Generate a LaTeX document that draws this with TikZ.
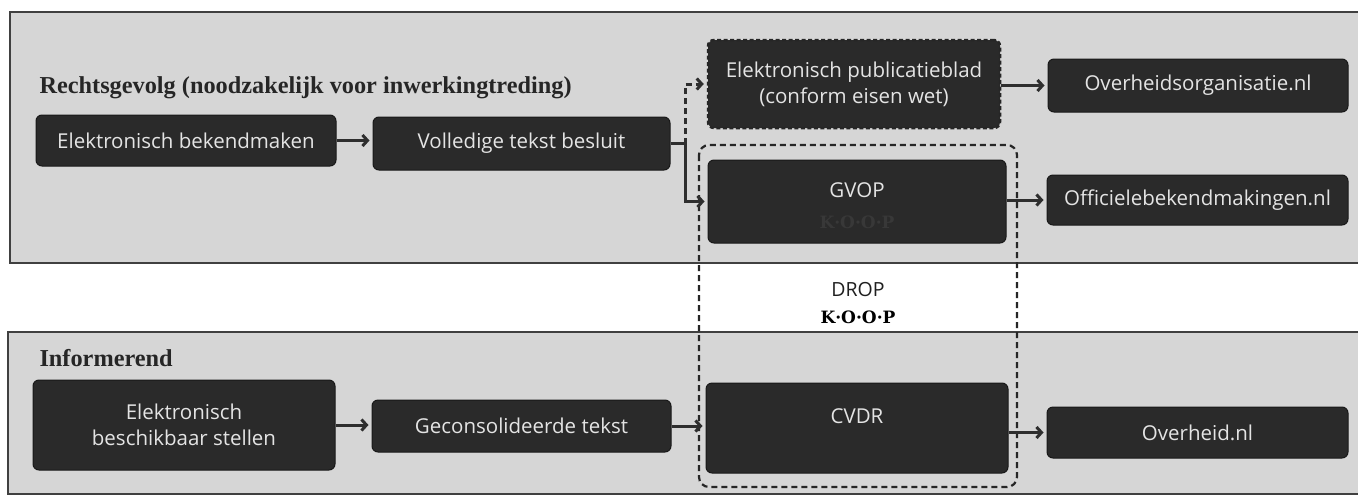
\documentclass[tikz,border=0pt]{standalone}
\usepackage{fontspec}
\setmainfont{Open Sans}
\newfontfamily\titlefont{Liberation Serif}
\newfontfamily\slabfont{DejaVu Serif}
\usetikzlibrary{arrows.meta}
\definecolor{panelc}{HTML}{D6D6D6}
\definecolor{boxc}{HTML}{2A2A2A}
\definecolor{txtc}{HTML}{E4E4E4}
\definecolor{edgec}{HTML}{2E2E2E}
\begin{document}
\begin{tikzpicture}[x=1pt,y=-1pt,
  box/.style={draw=black!90, line width=1pt, fill=boxc, rounded corners=6pt, text=txtc,
    font=\fontsize{20.5}{26}\selectfont, align=center, inner sep=0pt},
  dbox/.style={box, draw=black!85, line width=2.5pt, dash pattern=on 4pt off 2.5pt},
  arr/.style={line width=3pt, draw=edgec, shorten >=3pt,
    -{Straight Barb[length=5pt,width=11pt,line width=3pt]}},
  link/.style={line width=3pt, draw=edgec},
  panel/.style={fill=panelc, draw=black!75, line width=1.2pt},
  heading/.style={font=\titlefont\bfseries\fontsize{24.3}{28}\selectfont, anchor=west, text=black!85},
  slab/.style={font=\slabfont\bfseries\fontsize{17}{20}\selectfont},
  droprect/.style={draw=black!85, line width=2.2pt, dash pattern=on 6pt off 4pt, rounded corners=10pt}
]
\useasboundingbox (0,0) rectangle (1358,496);
\fill[white] (0,0) rectangle (1358,496);
% panels
\draw[panel] (1370,12) -- (10,12) -- (10,263) -- (1370,263);
\draw[panel] (1370,332) -- (8,332) -- (8,494) -- (1370,494);

% headings
\node[heading] (h1) at (36,88) {Rechtsgevolg (noodzakelijk voor inwerkingtreding)};
\node[heading] (h2) at (36,358) {Informerend};

% top row boxes
\node[box, minimum width=300pt, minimum height=51pt] (b1) at (186,140.5) {Elektronisch bekendmaken};
\node[box, minimum width=297pt, minimum height=53pt] (b2) at (521.5,143.5) {Volledige tekst besluit};
\node[dbox, minimum width=292pt, minimum height=88pt] (b3) at (854,84) {Elektronisch publicatieblad\\(conform eisen wet)};
\node[box, minimum width=300pt, minimum height=53pt] (b5) at (1198,85.5) {Overheidsorganisatie.nl};
\node[box, minimum width=298pt, minimum height=83pt] (b4) at (857,201.5) {};
\node[text=txtc, font=\fontsize{20.5}{26}\selectfont] (t4) at (857,190) {GVOP};
\node[slab, text=black!78] (k4) at (857,222) {K·O·O·P};
\node[box, minimum width=301pt, minimum height=50pt] (b6) at (1197.5,200) {Officielebekendmakingen.nl};

% bottom row boxes
\node[box, minimum width=302pt, minimum height=90pt] (b7) at (184,425) {Elektronisch\\beschikbaar stellen};
\node[box, minimum width=299pt, minimum height=52pt] (b8) at (521.5,426) {Geconsolideerde tekst};
\node[box, minimum width=302pt, minimum height=90pt] (b9) at (857,428) {};
\node[text=txtc, font=\fontsize{20.5}{26}\selectfont] (t9) at (857,416) {CVDR};
\node[box, minimum width=301pt, minimum height=51pt] (b10) at (1197.5,432.5) {Overheid.nl};

% DROP region
\draw[droprect] (699,145) rectangle (1017,487);
\node[font=\fontsize{19.5}{24}\selectfont, text=black!88] (drop) at (858,290) {DROP};
\node[slab, text=black] (koop) at (858,317) {K·O·O·P};

% connectors
\draw[arr] (b1.east) -- (b1.east -| b2.west);
\coordinate (j) at (685,143.5);
\draw[link] (b2.east) -- (j);
\draw[arr, dash pattern=on 6pt off 4pt] (j) |- (b3.west);
\draw[arr] (j) |- (b4.west);
\draw[arr] (b3.east |- b5.west) -- (b5.west);
\draw[arr] (b4.east |- b6.west) -- (b6.west);
\draw[arr] (b7.east) -- (b7.east -| b8.west);
\draw[arr] (b8.east) -- (b8.east -| b9.west);
\draw[arr] (b9.east |- b10.west) -- (b10.west);
\end{tikzpicture}
\end{document}
